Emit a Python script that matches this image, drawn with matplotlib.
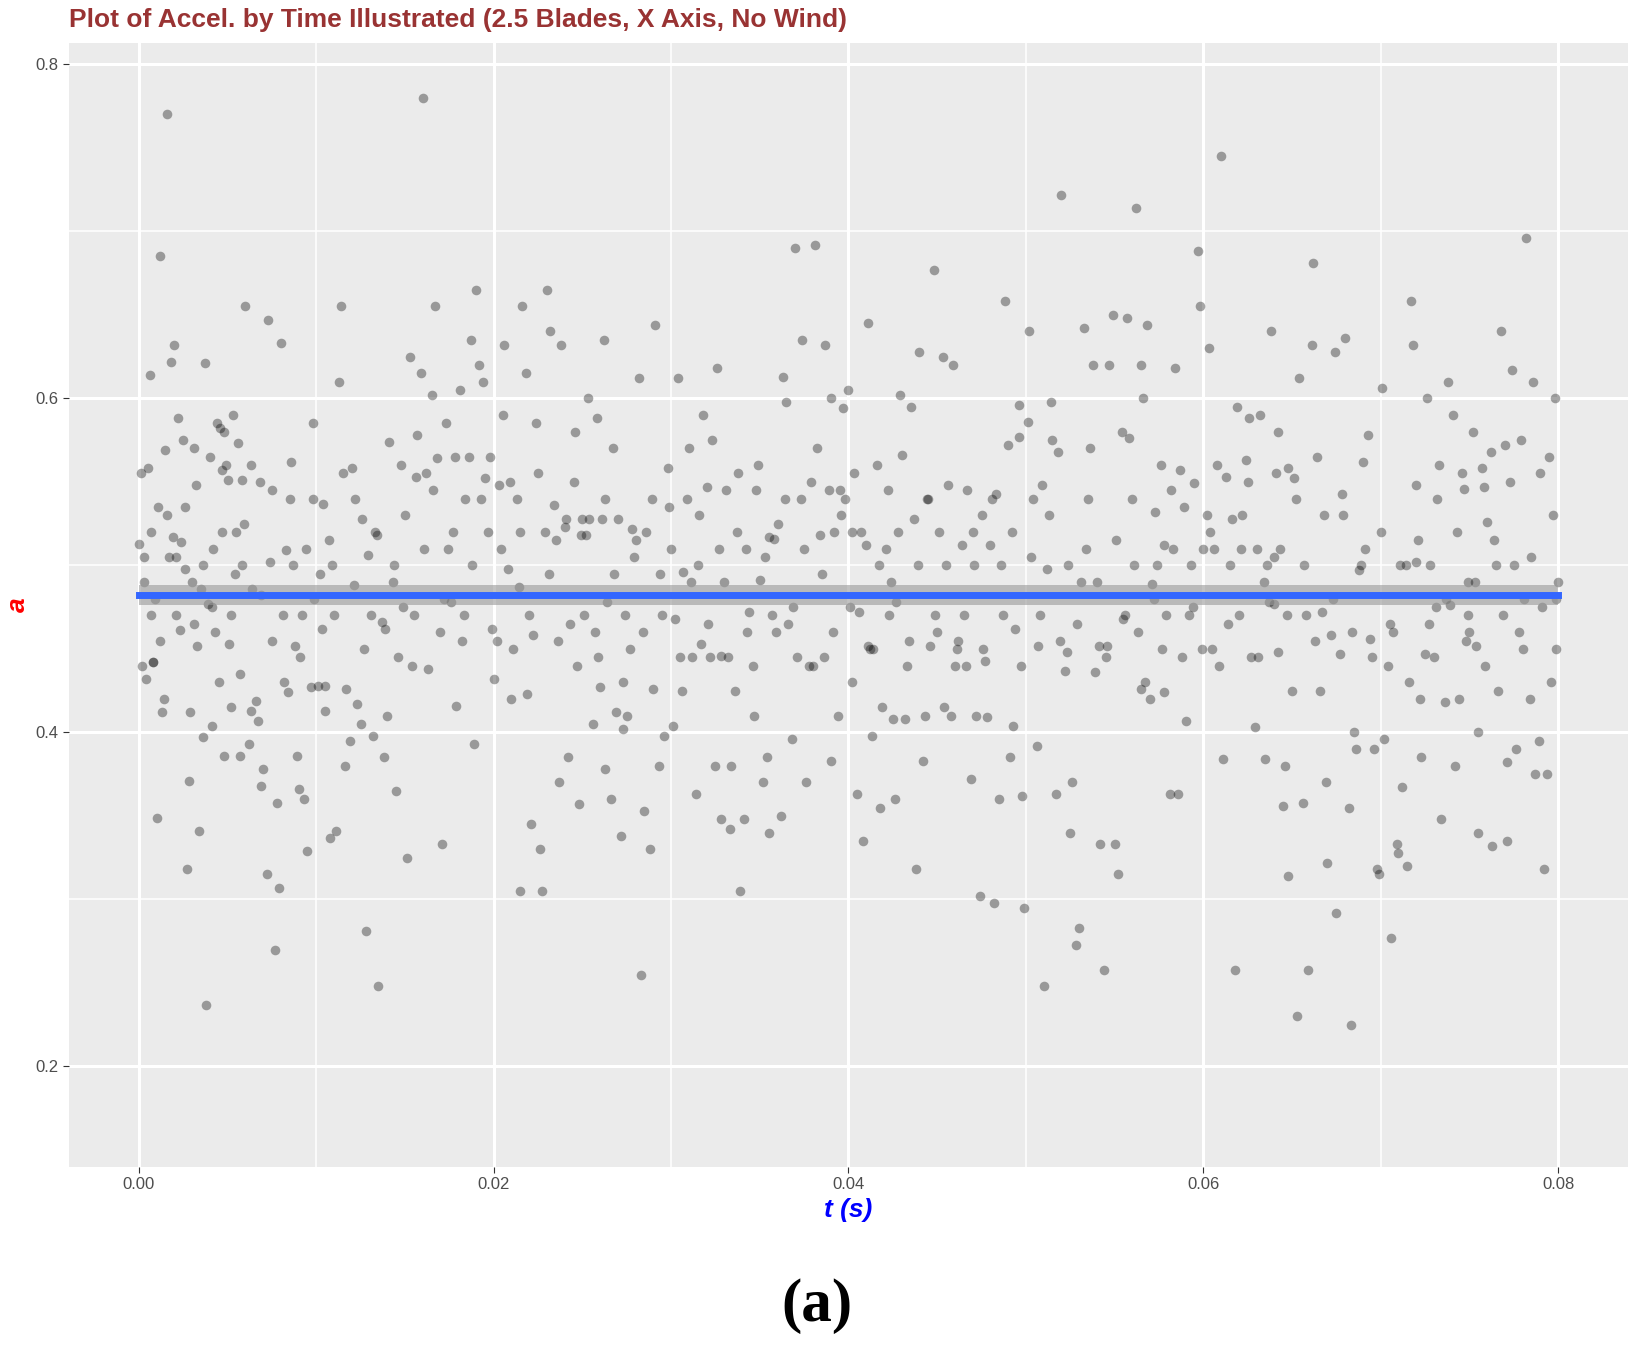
import matplotlib.pyplot as plt

# hand-read points (t in s, a)
t_vals = [
    0.0000, 0.0001, 0.0002, 0.0003, 0.0004, 0.0005, 0.0006, 0.0007, 0.0008, 0.0009,
    0.0010, 0.0011, 0.0012, 0.0013, 0.0014, 0.0015, 0.0016, 0.0017, 0.0018, 0.0019,
    0.0020, 0.0021, 0.0022, 0.0023, 0.0024, 0.0025, 0.0026, 0.0027, 0.0028, 0.0029,
    0.0030, 0.0031, 0.0032, 0.0033, 0.0034, 0.0035, 0.0036, 0.0037, 0.0038, 0.0039,
    0.0040, 0.0041, 0.0042, 0.0043, 0.0044, 0.0045, 0.0046, 0.0047, 0.0048, 0.0049,
    0.0050, 0.0051, 0.0052, 0.0053, 0.0054, 0.0055, 0.0056, 0.0057, 0.0058, 0.0059,
    0.0060, 0.0062, 0.0063, 0.0064, 0.0066, 0.0067, 0.0068, 0.0069, 0.0070, 0.0072,
    0.0073, 0.0074, 0.0075, 0.0077, 0.0078, 0.0079, 0.0080, 0.0082, 0.0083, 0.0084,
    0.0085, 0.0086, 0.0088, 0.0089, 0.0090, 0.0091, 0.0093, 0.0094, 0.0095, 0.0097,
    0.0098, 0.0099, 0.0101, 0.0102, 0.0104, 0.0105, 0.0107, 0.0108, 0.0110, 0.0111,
    0.0113, 0.0114, 0.0116, 0.0117, 0.0119, 0.0120, 0.0122, 0.0123, 0.0125, 0.0126,
    0.0128, 0.0129, 0.0131, 0.0132, 0.0134, 0.0135, 0.0137, 0.0138, 0.0140, 0.0141,
    0.0143, 0.0145, 0.0146, 0.0148, 0.0149, 0.0151, 0.0153, 0.0154, 0.0156, 0.0157,
    0.0159, 0.0160, 0.0162, 0.0163, 0.0165, 0.0167, 0.0168, 0.0170, 0.0171, 0.0173,
    0.0174, 0.0176, 0.0178, 0.0179, 0.0181, 0.0182, 0.0184, 0.0186, 0.0187, 0.0189,
    0.0190, 0.0192, 0.0194, 0.0195, 0.0197, 0.0198, 0.0200, 0.0202, 0.0203, 0.0205,
    0.0206, 0.0208, 0.0210, 0.0211, 0.0213, 0.0214, 0.0216, 0.0218, 0.0219, 0.0221,
    0.0222, 0.0224, 0.0226, 0.0227, 0.0229, 0.0230, 0.0232, 0.0234, 0.0235, 0.0237,
    0.0238, 0.0240, 0.0242, 0.0243, 0.0245, 0.0246, 0.0248, 0.0250, 0.0251, 0.0253,
    0.0254, 0.0256, 0.0258, 0.0259, 0.0261, 0.0262, 0.0264, 0.0266, 0.0267, 0.0269,
    0.0270, 0.0272, 0.0274, 0.0275, 0.0277, 0.0278, 0.0280, 0.0282, 0.0283, 0.0285,
    0.0286, 0.0288, 0.0290, 0.0291, 0.0293, 0.0294, 0.0296, 0.0298, 0.0299, 0.0301,
    0.0302, 0.0304, 0.0306, 0.0307, 0.0309, 0.0310, 0.0312, 0.0314, 0.0315, 0.0317,
    0.0318, 0.0320, 0.0322, 0.0323, 0.0325, 0.0326, 0.0328, 0.0330, 0.0331, 0.0333,
    0.0334, 0.0336, 0.0338, 0.0339, 0.0341, 0.0342, 0.0344, 0.0346, 0.0347, 0.0349,
    0.0350, 0.0352, 0.0354, 0.0355, 0.0357, 0.0358, 0.0360, 0.0362, 0.0363, 0.0365,
    0.0366, 0.0368, 0.0370, 0.0371, 0.0373, 0.0374, 0.0376, 0.0378, 0.0379, 0.0381,
    0.0382, 0.0384, 0.0386, 0.0387, 0.0389, 0.0390, 0.0392, 0.0394, 0.0395, 0.0397,
    0.0398, 0.0400, 0.0402, 0.0403, 0.0405, 0.0406, 0.0408, 0.0410, 0.0411, 0.0413,
    0.0414, 0.0416, 0.0418, 0.0419, 0.0421, 0.0422, 0.0424, 0.0426, 0.0427, 0.0429,
    0.0430, 0.0432, 0.0434, 0.0435, 0.0437, 0.0438, 0.0440, 0.0442, 0.0443, 0.0445,
    0.0446, 0.0448, 0.0450, 0.0451, 0.0453, 0.0454, 0.0456, 0.0458, 0.0459, 0.0461,
    0.0462, 0.0464, 0.0466, 0.0467, 0.0469, 0.0470, 0.0472, 0.0474, 0.0475, 0.0477,
    0.0478, 0.0480, 0.0482, 0.0483, 0.0485, 0.0486, 0.0488, 0.0490, 0.0491, 0.0493,
    0.0494, 0.0496, 0.0498, 0.0499, 0.0501, 0.0502, 0.0504, 0.0506, 0.0507, 0.0509,
    0.0510, 0.0512, 0.0514, 0.0515, 0.0517, 0.0518, 0.0520, 0.0522, 0.0523, 0.0525,
    0.0526, 0.0528, 0.0530, 0.0531, 0.0533, 0.0534, 0.0536, 0.0538, 0.0539, 0.0541,
    0.0542, 0.0544, 0.0546, 0.0547, 0.0549, 0.0550, 0.0552, 0.0554, 0.0555, 0.0557,
    0.0558, 0.0560, 0.0562, 0.0563, 0.0565, 0.0566, 0.0568, 0.0570, 0.0571, 0.0573,
    0.0574, 0.0576, 0.0578, 0.0579, 0.0581, 0.0582, 0.0584, 0.0586, 0.0587, 0.0589,
    0.0590, 0.0592, 0.0594, 0.0595, 0.0597, 0.0598, 0.0600, 0.0602, 0.0603, 0.0605,
    0.0606, 0.0608, 0.0610, 0.0611, 0.0613, 0.0614, 0.0616, 0.0618, 0.0619, 0.0621,
    0.0622, 0.0624, 0.0626, 0.0627, 0.0629, 0.0630, 0.0632, 0.0634, 0.0635, 0.0637,
    0.0638, 0.0640, 0.0642, 0.0643, 0.0645, 0.0646, 0.0648, 0.0650, 0.0651, 0.0653,
    0.0654, 0.0656, 0.0658, 0.0659, 0.0661, 0.0662, 0.0664, 0.0666, 0.0667, 0.0669,
    0.0670, 0.0672, 0.0674, 0.0675, 0.0677, 0.0678, 0.0680, 0.0682, 0.0683, 0.0685,
    0.0686, 0.0688, 0.0690, 0.0691, 0.0693, 0.0694, 0.0696, 0.0698, 0.0699, 0.0701,
    0.0702, 0.0704, 0.0706, 0.0707, 0.0709, 0.0710, 0.0712, 0.0714, 0.0715, 0.0717,
    0.0718, 0.0720, 0.0722, 0.0723, 0.0725, 0.0726, 0.0728, 0.0730, 0.0731, 0.0733,
    0.0734, 0.0736, 0.0738, 0.0739, 0.0741, 0.0742, 0.0744, 0.0746, 0.0747, 0.0749,
    0.0750, 0.0752, 0.0754, 0.0755, 0.0757, 0.0758, 0.0760, 0.0762, 0.0763, 0.0765,
    0.0766, 0.0768, 0.0770, 0.0771, 0.0773, 0.0774, 0.0776, 0.0778, 0.0779, 0.0781,
    0.0782, 0.0784, 0.0786, 0.0787, 0.0789, 0.0790, 0.0792, 0.0794, 0.0795, 0.0797,
    0.0798, 0.0799, 0.0800,
]

a_vals = [
    0.513, 0.555, 0.440, 0.490, 0.432, 0.558, 0.614, 0.520, 0.442, 0.480,
    0.349, 0.535, 0.685, 0.412, 0.420, 0.569, 0.770, 0.505, 0.622, 0.517,
    0.632, 0.470, 0.588, 0.461, 0.514, 0.575, 0.498, 0.318, 0.371, 0.412,
    0.490, 0.570, 0.548, 0.452, 0.341, 0.486, 0.397, 0.621, 0.237, 0.477,
    0.565, 0.404, 0.510, 0.460, 0.585, 0.430, 0.582, 0.557, 0.386, 0.560,
    0.551, 0.453, 0.415, 0.590, 0.495, 0.520, 0.573, 0.435, 0.551, 0.525,
    0.655, 0.393, 0.413, 0.486, 0.419, 0.407, 0.550, 0.368, 0.378, 0.315,
    0.647, 0.502, 0.455, 0.270, 0.358, 0.307, 0.633, 0.430, 0.509, 0.424,
    0.540, 0.562, 0.452, 0.386, 0.366, 0.445, 0.360, 0.510, 0.329, 0.427,
    0.585, 0.480, 0.428, 0.495, 0.537, 0.413, 0.515, 0.337, 0.470, 0.341,
    0.610, 0.655, 0.380, 0.426, 0.395, 0.558, 0.540, 0.417, 0.405, 0.528,
    0.281, 0.506, 0.470, 0.398, 0.518, 0.248, 0.466, 0.385, 0.410, 0.574,
    0.490, 0.365, 0.445, 0.560, 0.475, 0.325, 0.625, 0.440, 0.553, 0.578,
    0.615, 0.780, 0.555, 0.438, 0.602, 0.655, 0.564, 0.460, 0.333, 0.585,
    0.510, 0.478, 0.565, 0.416, 0.605, 0.455, 0.540, 0.565, 0.635, 0.393,
    0.665, 0.620, 0.610, 0.552, 0.520, 0.565, 0.432, 0.455, 0.548, 0.590,
    0.632, 0.498, 0.420, 0.450, 0.540, 0.487, 0.655, 0.615, 0.423, 0.345,
    0.458, 0.585, 0.330, 0.305, 0.520, 0.665, 0.640, 0.536, 0.515, 0.370,
    0.632, 0.523, 0.385, 0.465, 0.550, 0.580, 0.357, 0.528, 0.470, 0.600,
    0.528, 0.405, 0.588, 0.445, 0.528, 0.635, 0.478, 0.360, 0.570, 0.412,
    0.528, 0.338, 0.470, 0.410, 0.450, 0.522, 0.515, 0.612, 0.255, 0.353,
    0.520, 0.330, 0.426, 0.644, 0.380, 0.495, 0.398, 0.558, 0.535, 0.404,
    0.468, 0.612, 0.425, 0.496, 0.540, 0.570, 0.445, 0.363, 0.500, 0.453,
    0.590, 0.547, 0.445, 0.575, 0.380, 0.618, 0.348, 0.490, 0.545, 0.342,
    0.380, 0.425, 0.555, 0.305, 0.348, 0.510, 0.472, 0.440, 0.410, 0.560,
    0.491, 0.370, 0.385, 0.340, 0.470, 0.516, 0.525, 0.350, 0.613, 0.598,
    0.465, 0.396, 0.690, 0.445, 0.540, 0.635, 0.370, 0.440, 0.550, 0.692,
    0.570, 0.518, 0.445, 0.632, 0.545, 0.600, 0.520, 0.410, 0.545, 0.594,
    0.540, 0.605, 0.430, 0.555, 0.363, 0.472, 0.335, 0.512, 0.645, 0.398,
    0.450, 0.560, 0.355, 0.415, 0.510, 0.545, 0.490, 0.360, 0.478, 0.602,
    0.566, 0.408, 0.455, 0.595, 0.528, 0.318, 0.628, 0.383, 0.410, 0.540,
    0.452, 0.677, 0.460, 0.520, 0.625, 0.415, 0.548, 0.410, 0.620, 0.450,
    0.455, 0.512, 0.440, 0.545, 0.372, 0.520, 0.410, 0.302, 0.530, 0.443,
    0.409, 0.512, 0.298, 0.543, 0.360, 0.500, 0.658, 0.572, 0.385, 0.404,
    0.462, 0.596, 0.362, 0.295, 0.586, 0.640, 0.540, 0.392, 0.452, 0.548,
    0.248, 0.498, 0.598, 0.575, 0.363, 0.568, 0.722, 0.437, 0.448, 0.340,
    0.370, 0.273, 0.283, 0.490, 0.642, 0.510, 0.570, 0.620, 0.436, 0.452,
    0.333, 0.258, 0.452, 0.620, 0.650, 0.333, 0.315, 0.580, 0.468, 0.648,
    0.576, 0.540, 0.714, 0.460, 0.620, 0.600, 0.644, 0.420, 0.489, 0.532,
    0.500, 0.560, 0.512, 0.470, 0.363, 0.545, 0.618, 0.363, 0.557, 0.535,
    0.407, 0.470, 0.475, 0.549, 0.688, 0.655, 0.510, 0.530, 0.630, 0.450,
    0.510, 0.560, 0.745, 0.384, 0.553, 0.465, 0.528, 0.258, 0.595, 0.510,
    0.530, 0.563, 0.588, 0.445, 0.403, 0.510, 0.590, 0.490, 0.384, 0.478,
    0.640, 0.505, 0.448, 0.510, 0.356, 0.380, 0.314, 0.425, 0.552, 0.230,
    0.612, 0.358, 0.470, 0.258, 0.632, 0.681, 0.565, 0.425, 0.472, 0.370,
    0.322, 0.458, 0.628, 0.292, 0.447, 0.543, 0.636, 0.355, 0.225, 0.400,
    0.390, 0.497, 0.562, 0.510, 0.578, 0.456, 0.390, 0.318, 0.315, 0.606,
    0.396, 0.440, 0.277, 0.460, 0.333, 0.328, 0.367, 0.500, 0.320, 0.658,
    0.632, 0.548, 0.420, 0.385, 0.447, 0.600, 0.500, 0.445, 0.475, 0.560,
    0.348, 0.418, 0.610, 0.476, 0.590, 0.380, 0.420, 0.555, 0.546, 0.470,
    0.460, 0.580, 0.452, 0.340, 0.558, 0.547, 0.526, 0.568, 0.332, 0.500,
    0.425, 0.640, 0.572, 0.382, 0.550, 0.617, 0.390, 0.460, 0.575, 0.480,
    0.696, 0.420, 0.610, 0.375, 0.395, 0.555, 0.318, 0.375, 0.565, 0.530,
    0.600, 0.450, 0.490, 0.370, 0.655, 0.518, 0.412, 0.688, 0.390, 0.340,
    0.580, 0.680, 0.455, 0.465, 0.540, 0.625, 0.670, 0.595, 0.405, 0.560,
    0.670, 0.493, 0.595, 0.570, 0.450, 0.300, 0.632, 0.356, 0.390, 0.430,
    0.525, 0.355, 0.520, 0.502, 0.390, 0.420, 0.440, 0.578, 0.302, 0.465,
    0.612, 0.550, 0.665, 0.470, 0.530, 0.565, 0.318, 0.535, 0.590, 0.478,
    0.625, 0.400, 0.345, 0.580, 0.550, 0.465, 0.352, 0.265, 0.405, 0.493,
    0.260, 0.248, 0.400, 0.480, 0.295, 0.268, 0.565, 0.615, 0.590, 0.335,
    0.415, 0.335, 0.555, 0.450, 0.620, 0.400, 0.335, 0.460, 0.305, 0.362,
    0.530, 0.632, 0.612, 0.540, 0.450, 0.565, 0.425, 0.665, 0.330, 0.350,
    0.480, 0.458, 0.650,
]

# second pass over the dense middle band, read as (t, a) pairs
extra_pts = [
    (0.0003, 0.505), (0.0007, 0.470), (0.0012, 0.455), (0.0016, 0.530), (0.0021, 0.505),
    (0.0026, 0.535), (0.0031, 0.465), (0.0036, 0.500), (0.0041, 0.475), (0.0047, 0.520),
    (0.0052, 0.470), (0.0058, 0.500), (0.0063, 0.560), (0.0069, 0.482), (0.0075, 0.545),
    (0.0081, 0.470), (0.0087, 0.500), (0.0092, 0.470), (0.0098, 0.540), (0.0103, 0.462),
    (0.0109, 0.500), (0.0115, 0.555), (0.0121, 0.488), (0.0127, 0.450), (0.0133, 0.520),
    (0.0139, 0.462), (0.0144, 0.500), (0.0150, 0.530), (0.0155, 0.470), (0.0161, 0.510),
    (0.0166, 0.545), (0.0172, 0.480), (0.0177, 0.520), (0.0183, 0.470), (0.0188, 0.500),
    (0.0193, 0.540), (0.0199, 0.462), (0.0204, 0.510), (0.0209, 0.550), (0.0215, 0.520),
    (0.0220, 0.470), (0.0225, 0.555), (0.0231, 0.495), (0.0236, 0.455), (0.0241, 0.528),
    (0.0247, 0.440), (0.0252, 0.518), (0.0257, 0.460), (0.0263, 0.540), (0.0268, 0.495),
    (0.0273, 0.430), (0.0279, 0.505), (0.0284, 0.460), (0.0289, 0.540), (0.0295, 0.470),
    (0.0300, 0.510), (0.0305, 0.445), (0.0311, 0.490), (0.0316, 0.530), (0.0321, 0.465),
    (0.0327, 0.510), (0.0332, 0.445), (0.0337, 0.520), (0.0343, 0.460), (0.0348, 0.545),
    (0.0353, 0.505), (0.0359, 0.460), (0.0364, 0.540), (0.0369, 0.475), (0.0375, 0.510),
    (0.0380, 0.440), (0.0385, 0.495), (0.0391, 0.460), (0.0396, 0.530), (0.0401, 0.475),
    (0.0407, 0.520), (0.0412, 0.450), (0.0417, 0.500), (0.0423, 0.470), (0.0428, 0.520),
    (0.0433, 0.440), (0.0439, 0.500), (0.0444, 0.540), (0.0449, 0.470), (0.0455, 0.500),
    (0.0460, 0.440), (0.0465, 0.470), (0.0471, 0.500), (0.0476, 0.450), (0.0481, 0.540),
    (0.0487, 0.470), (0.0492, 0.520), (0.0497, 0.440), (0.0503, 0.505), (0.0508, 0.470),
    (0.0513, 0.530), (0.0519, 0.455), (0.0524, 0.500), (0.0529, 0.465), (0.0535, 0.540),
    (0.0540, 0.490), (0.0545, 0.445), (0.0551, 0.515), (0.0556, 0.470), (0.0561, 0.500),
    (0.0567, 0.430), (0.0572, 0.480), (0.0577, 0.450), (0.0583, 0.510), (0.0588, 0.445),
    (0.0593, 0.500), (0.0599, 0.450), (0.0604, 0.520), (0.0609, 0.440), (0.0615, 0.500),
    (0.0620, 0.470), (0.0625, 0.550), (0.0631, 0.445), (0.0636, 0.500), (0.0641, 0.555),
    (0.0647, 0.470), (0.0652, 0.540), (0.0657, 0.500), (0.0663, 0.455), (0.0668, 0.530),
    (0.0673, 0.480), (0.0679, 0.530), (0.0684, 0.460), (0.0689, 0.500), (0.0695, 0.445),
    (0.0700, 0.520), (0.0705, 0.465), (0.0711, 0.500), (0.0716, 0.430), (0.0721, 0.515),
    (0.0727, 0.465), (0.0732, 0.540), (0.0737, 0.480), (0.0743, 0.520), (0.0748, 0.455),
    (0.0753, 0.490), (0.0759, 0.440), (0.0764, 0.515), (0.0769, 0.470), (0.0775, 0.500),
    (0.0780, 0.450), (0.0785, 0.505), (0.0791, 0.475), (0.0796, 0.430), (0.0799, 0.480),
    (0.0008, 0.442), (0.0048, 0.580), (0.0057, 0.386), (0.0105, 0.428), (0.0215, 0.305),
    (0.0249, 0.518), (0.0260, 0.427), (0.0263, 0.378), (0.0273, 0.402), (0.0328, 0.446),
    (0.0355, 0.517), (0.0390, 0.383), (0.0402, 0.520), (0.0411, 0.452), (0.0425, 0.408),
    (0.0496, 0.577), (0.0565, 0.426), (0.0578, 0.424), (0.0642, 0.580), (0.0648, 0.558),
    (0.0640, 0.477), (0.0720, 0.502), (0.0749, 0.490), (0.0771, 0.335), (0.0755, 0.400),
]

band_lo, band_hi = 0.4765, 0.4885
fit_a = 0.4825
fit_t = [0.0, 0.08]

# the two hand-typed lists ran to slightly different lengths; keep matching pairs
n = min(len(t_vals), len(a_vals))
t_pts = t_vals[:n] + [p[0] for p in extra_pts]
a_pts = a_vals[:n] + [p[1] for p in extra_pts]

fig = plt.figure(figsize=(16.38, 13.55), dpi=100)
ax = fig.add_axes([0.042, 0.139, 0.952, 0.829])
ax.set_facecolor('#EBEBEB')
for s in ax.spines.values():
    s.set_visible(False)

ax.set_xlim(-0.00395, 0.08395)
ax.set_ylim(0.14, 0.8125)
ax.set_xticks([0.0, 0.02, 0.04, 0.06, 0.08])
ax.set_xticklabels(['0.00', '0.02', '0.04', '0.06', '0.08'])
ax.set_xticks([0.01, 0.03, 0.05, 0.07], minor=True)
ax.set_yticks([0.2, 0.4, 0.6, 0.8])
ax.set_yticklabels(['0.2', '0.4', '0.6', '0.8'])
ax.set_yticks([0.3, 0.5, 0.7], minor=True)
ax.grid(which='major', color='white', linewidth=2.2)
ax.grid(which='minor', color='white', linewidth=1.1)
ax.set_axisbelow(True)
ax.tick_params(which='major', colors='#333333', labelcolor='#4D4D4D', labelsize=12, length=4)
ax.tick_params(which='minor', length=0)
for lab in ax.get_xticklabels() + ax.get_yticklabels():
    lab.set_family('Liberation Sans')

ax.scatter(t_pts, a_pts, s=48, color='black', alpha=0.35, linewidths=0, zorder=2)
ax.fill_between(fit_t, band_lo, band_hi, color='#999999', alpha=0.6, linewidth=0, zorder=3)
ax.plot(fit_t, [fit_a, fit_a], color='#3366FF', linewidth=5, zorder=4)

ax.set_xlabel('t (s)', color='blue', fontsize=19, fontweight='bold', style='italic',
              family='Liberation Sans', labelpad=4)
ax.set_ylabel('a', color='red', fontsize=19, fontweight='bold', style='italic',
              family='Liberation Sans', labelpad=4)

fig.text(0.042, 0.985, 'Plot of Accel. by Time Illustrated (2.5 Blades, X Axis, No Wind)',
         color='#993333', fontsize=19, fontweight='bold', family='Liberation Sans',
         ha='left', va='center')
fig.text(0.499, 0.036, '(a)', fontsize=44, fontweight='bold', family='Liberation Serif',
         ha='center', va='center')

fig.savefig('out.png', dpi=100)
